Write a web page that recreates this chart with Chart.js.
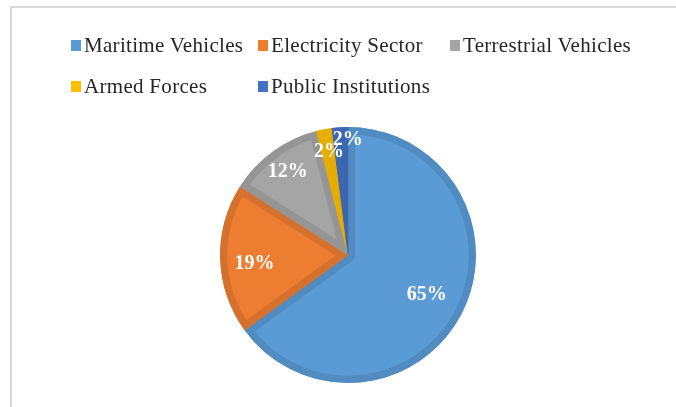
<!DOCTYPE html>
<html>
<head>
<meta charset="utf-8">
<script src="https://cdn.jsdelivr.net/npm/chart.js@4"></script>
<style>
    html, body { margin: 0; padding: 0; background: #fff; }
    #wrap { position: relative; width: 676px; height: 407px; overflow: hidden; }
    #frame {
        position: absolute; left: 10px; top: 6px; right: -4px; bottom: -4px;
        border-top: 2px solid #d9d9d9; border-left: 2px solid #d9d9d9;
    }
    #shareChart { position: absolute; left: 0; top: 0; }
    #legend {
        position: absolute; left: 71px; top: 33px;
        display: grid; grid-template-columns: 187px 192px auto; row-gap: 16px;
        font-family: "Liberation Serif", "Times New Roman", serif;
        font-size: 21px; color: #262626; line-height: 25px;
    }
    .item { display: flex; align-items: center; white-space: nowrap; letter-spacing: 0.3px; }
    .swatch { width: 10px; height: 11px; margin-right: 3px; flex: none; }
</style>
</head>
<body>
<div id="wrap">
    <div id="frame"></div>
    <canvas id="shareChart" width="676" height="407"></canvas>
    <div id="legend"></div>
</div>
<script>
const categories = ['Maritime Vehicles', 'Electricity Sector', 'Terrestrial Vehicles', 'Armed Forces', 'Public Institutions'];
const shares = [65, 19, 12, 2, 2];

const FILL_COLORS = ['#5b9bd5', '#ed7d31', '#a5a5a5', '#ffc000', '#4472c4'];
const EDGE_COLORS = ['#508bc2', '#d5712d', '#959595', '#e5ad00', '#3d67b1'];

// radius fraction / nudge for each data label (Excel "best fit" look)
const LABEL_PLACEMENT = [
    { r: 0.69, dx: 0, dy: 0 },
    { r: 0.73, dx: 0, dy: 6 },
    { r: 0.80, dx: 0, dy: 0 },
    { r: 0.83, dx: 1, dy: 1 },
    { r: 0.90, dx: 7, dy: 0 }
];

function buildLegend() {
    const box = document.getElementById('legend');
    categories.forEach((name, i) => {
        const item = document.createElement('div');
        item.className = 'item';
        const sw = document.createElement('span');
        sw.className = 'swatch';
        sw.style.background = FILL_COLORS[i];
        item.appendChild(sw);
        item.appendChild(document.createTextNode(name));
        box.appendChild(item);
    });
}

const pctLabels = {
    id: 'pctLabels',
    afterDatasetsDraw(chart) {
        const ctx = chart.ctx;
        const meta = chart.getDatasetMeta(0);
        ctx.save();
        ctx.font = 'bold 20px "Liberation Serif", "Times New Roman", serif';
        ctx.fillStyle = '#ffffff';
        ctx.textAlign = 'center';
        ctx.textBaseline = 'middle';
        meta.data.forEach((arc, i) => {
            const p = arc.getProps(['x', 'y', 'startAngle', 'endAngle', 'outerRadius'], true);
            const mid = (p.startAngle + p.endAngle) / 2;
            const place = LABEL_PLACEMENT[i];
            const r = p.outerRadius * place.r;
            const x = p.x + Math.cos(mid) * r + place.dx;
            const y = p.y + Math.sin(mid) * r + place.dy;
            ctx.fillText(shares[i] + '%', x, y);
        });
        ctx.restore();
    }
};

function initPie() {
    const ctx = document.getElementById('shareChart').getContext('2d');
    new Chart(ctx, {
        type: 'pie',
        data: {
            labels: categories,
            datasets: [{
                data: shares,
                backgroundColor: FILL_COLORS,
                borderColor: EDGE_COLORS,
                borderWidth: 7,
                borderAlign: 'inner',
                hoverOffset: 0
            }]
        },
        options: {
            responsive: false,
            animation: false,
            radius: 128,
            layout: { padding: { left: 30, right: 10, top: 113, bottom: 10 } },
            plugins: {
                legend: { display: false },
                tooltip: { enabled: false }
            }
        },
        plugins: [pctLabels]
    });
}

document.addEventListener('DOMContentLoaded', () => {
    buildLegend();
    initPie();
});
</script>
</body>
</html>
